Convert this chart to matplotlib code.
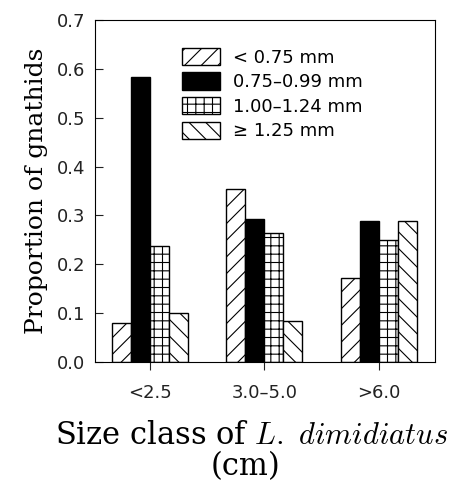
import numpy as np
import matplotlib
matplotlib.use("Agg")
from matplotlib import pyplot as plt

# 数据
sizeClasses = ["<2.5", "3.0\u20135.0", ">6.0"]
seriesLabels = ["< 0.75 mm", "0.75\u20130.99 mm", "1.00\u20131.24 mm", "\u2265 1.25 mm"]
lt075 = [0.080, 0.355, 0.172]
mm075to099 = [0.583, 0.293, 0.288]
mm100to124 = [0.237, 0.265, 0.250]
ge125 = [0.100, 0.083, 0.288]
yTicks = [0.0, 0.1, 0.2, 0.3, 0.4, 0.5, 0.6, 0.7]

plt.rcParams["mathtext.fontset"] = "cm"
plt.rcParams["hatch.linewidth"] = 0.8

fig = plt.figure(figsize=(4.65, 4.83), dpi=100)
ax = fig.add_axes([0.204, 0.2505, 0.731, 0.708])

x = np.arange(len(sizeClasses))
w = 0.166
series = [lt075, mm075to099, mm100to124, ge125]
hatches = ["//", "", "++", "\\\\"]
faces = ["white", "black", "white", "white"]
for i, vals in enumerate(series):
    ax.bar(x + (i - 1.5) * w, vals, w, color=faces[i], edgecolor="black",
           hatch=hatches[i], linewidth=1.0, label=seriesLabels[i])

ax.set_xlim(-0.48, 2.49)
ax.set_ylim(0, 0.7)
ax.set_yticks(yTicks)
ax.set_yticklabels(["%.1f" % v for v in yTicks])
ax.set_xticks(x)
ax.set_xticklabels(sizeClasses)
ax.tick_params(axis="y", direction="in", length=6, pad=7, labelsize=13, colors="#222222")
ax.tick_params(axis="x", direction="out", length=6, pad=10, labelsize=13, colors="#222222")
for s in ax.spines.values():
    s.set_linewidth(0.8)

# 轴标签 (衬线体)
ax.set_ylabel("Proportion of gnathids", fontsize=18, family="DejaVu Serif", labelpad=6)
fig.text(252 / 465, 1 - 436 / 483, r"Size class of $L.\ dimidiatus$",
         fontsize=22, family="DejaVu Serif", ha="center", va="center")
fig.text(245 / 465, 1 - 467 / 483, "(cm)", fontsize=22, family="DejaVu Serif",
         ha="center", va="center")

ax.legend(loc="upper left", bbox_to_anchor=(0.235, 0.94), frameon=False, fontsize=13,
          handlelength=2.1, handleheight=1.1, handletextpad=0.7, labelspacing=0.32,
          borderaxespad=0)

plt.savefig("out.png", dpi=100)
